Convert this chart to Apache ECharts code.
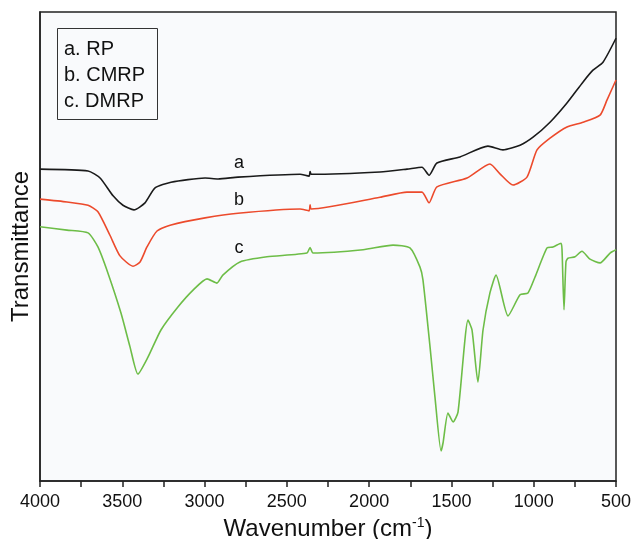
<!DOCTYPE html>
<html>
<head>
<meta charset="utf-8">
<script src="https://cdn.jsdelivr.net/npm/echarts@6/dist/echarts.min.js"></script>
<style>
  html, body { margin: 0; padding: 0; background: #fff; }
  #chart { width: 631px; height: 539px; }
</style>
</head>
<body>
<div id="chart"></div>
<script>
// wavenumber (cm-1) / transmittance (arbitrary units)
var waveA = [4000, 3708, 3635, 3556, 3496, 3429, 3362, 3301, 3204, 2997, 2918, 2797, 2420, 2365, 2359, 2352, 1934, 1770, 1679, 1636, 1588, 1448, 1278, 1187, 1083, 1004, 901, 798, 700, 640, 579, 500];
var transA = [66.5, 66.1, 64.6, 60.8, 58.8, 57.8, 59.3, 62.5, 63.7, 64.6, 64.4, 64.8, 65.4, 65.0, 66.0, 65.4, 65.9, 66.5, 66.9, 65.2, 67.8, 69.1, 71.4, 70.6, 71.6, 73.3, 76.5, 80.6, 85.1, 87.6, 89.3, 94.4];

var waveB = [4000, 3836, 3708, 3648, 3575, 3514, 3435, 3392, 3350, 3289, 3204, 2997, 2797, 2420, 2365, 2359, 2352, 1934, 1770, 1679, 1636, 1588, 1405, 1266, 1205, 1126, 1041, 980, 901, 798, 700, 597, 555, 500];
var transB = [60.1, 59.5, 58.8, 57.4, 52.4, 48.0, 45.8, 46.7, 49.9, 53.3, 54.6, 56.1, 57.1, 58.0, 57.6, 58.9, 58.0, 60.5, 61.6, 61.6, 59.3, 62.7, 64.6, 67.6, 65.5, 63.1, 64.8, 70.6, 73.1, 75.5, 76.5, 78.0, 81.2, 85.5];

var waveC = [4000, 3836, 3708, 3648, 3587, 3508, 3453, 3405, 3344, 3265, 3162, 3070, 2985, 2925, 2889, 2785, 2621, 2378, 2359, 2341, 2037, 1855, 1752, 1691, 1673, 1630, 1600, 1563, 1551, 1521, 1490, 1460, 1399, 1375, 1339, 1308, 1266, 1229, 1156, 1083, 1035, 992, 919, 883, 834, 828, 816, 804, 792, 749, 707, 658, 597, 536, 500];
var transC = [54.2, 53.5, 52.9, 49.9, 44.3, 35.8, 28.6, 22.8, 26.4, 32.2, 37.1, 40.7, 43.1, 42.2, 43.9, 46.7, 47.8, 48.6, 49.8, 48.6, 49.3, 50.3, 49.7, 45.6, 42.9, 28.6, 17.9, 6.4, 8.1, 14.5, 12.6, 14.7, 34.3, 32.2, 21.1, 32.2, 40.1, 43.9, 35.2, 39.7, 40.1, 43.5, 49.7, 49.9, 50.7, 49.3, 36.5, 46.7, 47.5, 47.8, 49.0, 47.3, 46.5, 48.6, 49.3];

var curveLabels = ['a', 'b', 'c'];
var labelWave = 2791;
var labelTrans = [67.8, 59.9, 49.7];
var legendLines = ['a. RP', 'b. CMRP', 'c. DMRP'];

function pairs(xs, ys) {
  return xs.map(function (x, i) { return [x, ys[i]] })
}

function makeSeries(name, xs, ys, color, idx) {
  return {
    name: name,
    type: 'line',
    data: pairs(xs, ys),
    showSymbol: false,
    smooth: 0.2,
    lineStyle: { color: color, width: 1.6 },
    itemStyle: { color: color },
    markPoint: {
      symbol: 'circle',
      symbolSize: 0,
      data: [{ coord: [labelWave, labelTrans[idx]] }],
      label: {
        show: true,
        position: 'inside',
        formatter: curveLabels[idx],
        color: '#111',
        fontSize: 18,
        fontFamily: 'Liberation Sans, Arial, sans-serif'
      }
    }
  }
}

var chart = echarts.init(document.getElementById('chart'))

chart.setOption({
  animation: false,
  backgroundColor: '#fff',
  textStyle: { fontFamily: 'Liberation Sans, Arial, sans-serif' },
  grid: {
    left: 40,
    right: 15,
    top: 12,
    bottom: 58,
    outerBoundsMode: 'none',
    show: true,
    backgroundColor: '#f9fafc',
    borderColor: '#222',
    borderWidth: 1.5
  },
  graphic: [
    {
      type: 'rect',
      left: 57,
      top: 28,
      shape: { width: 100, height: 91 },
      style: { fill: '#f9fafc', stroke: '#333', lineWidth: 1 },
      z: 100
    },
    {
      type: 'text',
      left: 64,
      top: 36,
      style: {
        text: legendLines.join('\n'),
        fontSize: 20,
        lineHeight: 26,
        fill: '#111',
        fontFamily: 'Liberation Sans, Arial, sans-serif'
      },
      z: 101
    }
  ],
  xAxis: {
    type: 'value',
    min: 500,
    max: 4000,
    interval: 250,
    inverse: true,
    name: 'Wavenumber (cm{sup|-1})',
    nameLocation: 'middle',
    nameGap: 27,
    nameTextStyle: {
      fontSize: 24,
      color: '#111',
      rich: {
        sup: { fontSize: 14, verticalAlign: 'top', padding: [0, 0, 12, 0], color: '#111' }
      }
    },
    axisLine: { show: true, lineStyle: { color: '#222', width: 1.5 } },
    axisTick: { show: true, inside: false, length: 6, lineStyle: { color: '#222', width: 1.5 } },
    axisLabel: {
      color: '#111',
      fontSize: 18,
      margin: 12,
      formatter: function (v) { return v % 500 === 0 ? String(v) : '' }
    },
    splitLine: { show: false }
  },
  yAxis: {
    type: 'value',
    min: 0,
    max: 100,
    name: 'Transmittance',
    nameLocation: 'middle',
    nameGap: 7,
    nameTextStyle: { fontSize: 24, color: '#111' },
    axisLine: { show: true, lineStyle: { color: '#222', width: 1.5 } },
    axisTick: { show: false },
    axisLabel: { show: false },
    splitLine: { show: false }
  },
  series: [
    makeSeries('a. RP', waveA, transA, '#1a1a1a', 0),
    makeSeries('b. CMRP', waveB, transB, '#ec4a2c', 1),
    makeSeries('c. DMRP', waveC, transC, '#6dbd47', 2)
  ]
})
</script>
</body>
</html>
